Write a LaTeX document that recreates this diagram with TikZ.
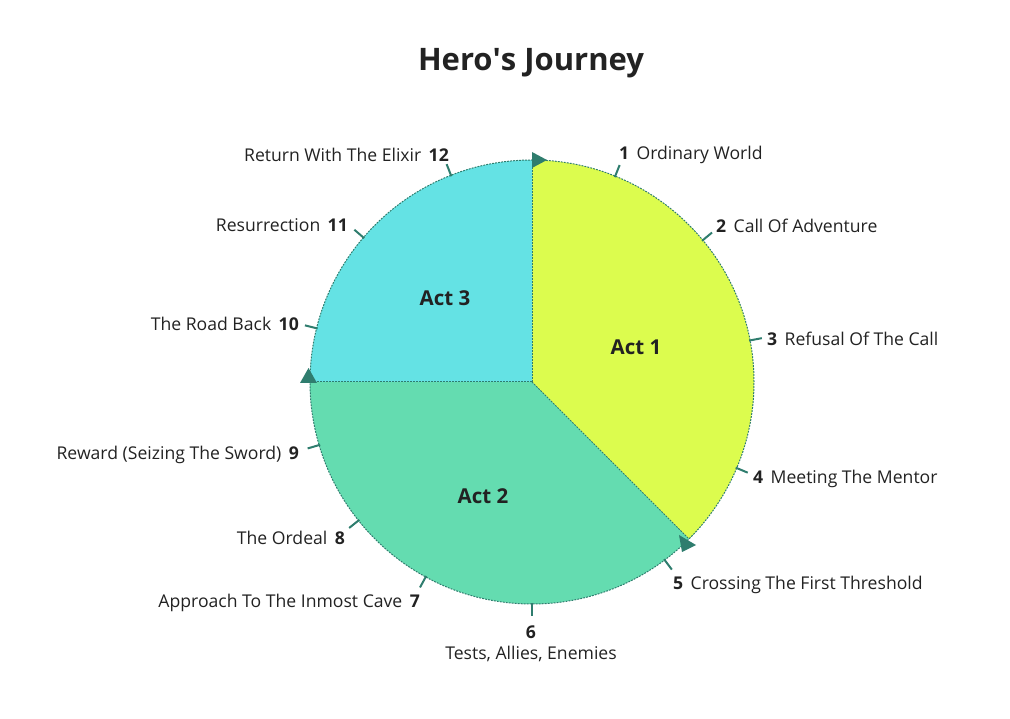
\documentclass[tikz,border=0pt]{standalone}
\usepackage{fontspec}
\setmainfont{Open Sans}
\usetikzlibrary{positioning,calc}
\definecolor{actone}{HTML}{DCFC4E}
\definecolor{acttwo}{HTML}{64DCB0}
\definecolor{actthree}{HTML}{64E2E4}
\definecolor{rim}{HTML}{2F7D6E}
\definecolor{ink}{HTML}{222222}
\newcommand{\stp}[1]{\textbf{#1}}

\begin{document}
\begin{tikzpicture}[x=1pt,y=1pt,
  stage/.style={font=\fontsize{17.6}{20}\selectfont,text=ink,inner sep=0pt},
  actlab/.style={font=\fontsize{20.5}{24}\selectfont\bfseries,text=ink},
  rimline/.style={draw=rim,line width=1pt,dash pattern=on 1.8pt off 1.2pt},
  tickmark/.style={draw=rim,line width=2pt},
  marker/.style={fill=rim,draw=none}]
\useasboundingbox (0,0) rectangle (1010,718);
\coordinate (c) at (532,336);
% sectors
\fill[actone] (c) -- ++(90:222) arc[start angle=90,end angle=-45,radius=222] -- cycle;
\fill[acttwo] (c) -- ++(-45:222) arc[start angle=-45,end angle=-180,radius=222] -- cycle;
\fill[actthree] (c) -- ++(180:222) arc[start angle=180,end angle=90,radius=222] -- cycle;
\draw[rimline] (c) circle[radius=222];
\draw[rimline] (c) -- ++(90:222);
\draw[rimline] (c) -- ++(180:222);
\draw[rimline] (c) -- ++(-45:222);
% ticks
\foreach \a in {68,39.7,10.8,-22.8,-53.3,-90,-118.6,-141.4,-163.5,166,139.4,111.4}
  \draw[tickmark] ($(c)+(\a:221)$) -- ($(c)+(\a:234)$);
% markers
\fill[marker] (532,566) -- (532,550) -- (547,558) -- cycle;
\fill[marker] (300,335) -- (317,335) -- (308.5,350) -- cycle;
\fill[marker] (679,183) -- (682,166) -- (696,173) -- cycle;
% title and acts
\node[font=\fontsize{31}{36}\selectfont\bfseries,text=ink] (title) at (531,655) {Hero\textquotesingle s Journey};
\node[actlab] (act1) at (636,371) {Act 1};
\node[actlab] (act2) at (483,222) {Act 2};
\node[actlab] (act3) at (445,420) {Act 3};
% steps
\node[stage,anchor=west] (s1) at (619,563) {\stp{1}\hspace{0.42em}Ordinary World};
\node[stage,anchor=west] (s2) at (716,492) {\stp{2}\hspace{0.42em}Call Of Adventure};
\node[stage,anchor=west] (s3) at (767,379) {\stp{3}\hspace{0.42em}Refusal Of The Call};
\node[stage,anchor=west] (s4) at (753,239) {\stp{4}\hspace{0.42em}Meeting The Mentor};
\node[stage,anchor=west] (s5) at (673,133) {\stp{5}\hspace{0.42em}Crossing The First Threshold};
\node[stage] (n6) at (531,86) {\stp{6}};
\node[stage] (s6) at (531,64) {Tests, Allies, Enemies};
\node[stage,anchor=east] (s7) at (420,115) {Approach To The Inmost Cave\hspace{0.42em}\stp{7}};
\node[stage,anchor=east] (s8) at (345,180) {The Ordeal\hspace{0.42em}\stp{8}};
\node[stage,anchor=east] (s9) at (299,263) {Reward (Seizing The Sword)\hspace{0.42em}\stp{9}};
\node[stage,anchor=east] (s10) at (299,394) {The Road Back\hspace{0.42em}\stp{10}};
\node[stage,anchor=east] (s11) at (348,493) {Resurrection\hspace{0.42em}\stp{11}};
\node[stage,anchor=east] (s12) at (449,563) {Return With The Elixir\hspace{0.42em}\stp{12}};
\end{tikzpicture}
\end{document}
